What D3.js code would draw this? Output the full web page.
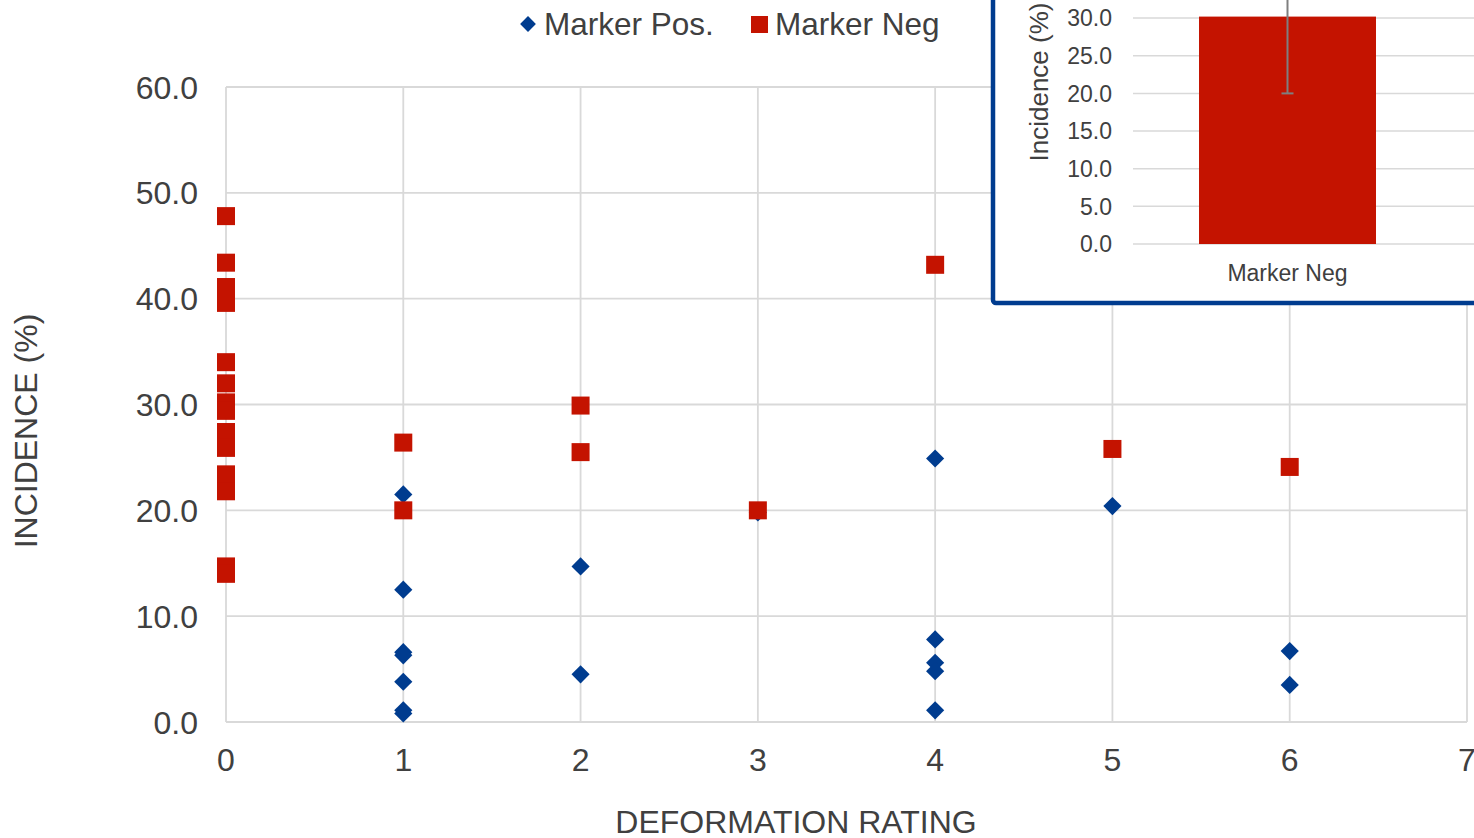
<!DOCTYPE html>
<html>
<head>
<meta charset="utf-8">
<script src="https://cdn.jsdelivr.net/npm/d3@7"></script>
<style>
  body { margin: 0; background: #fff; overflow: hidden; }
  text { font-family: "Liberation Sans", Arial, sans-serif; fill: #404040; }
</style>
</head>
<body>
<div id="chart"></div>
<script>
// size of the page
const width = 1474;
const height = 838;

// main scatter: marker positive (diamonds)
const posRating = [1, 1, 1, 1, 1, 1, 1, 2, 2, 3, 4, 4, 4, 4, 4, 5, 6, 6];
const posIncidence = [21.5, 12.5, 6.6, 6.3, 3.8, 1.1, 0.8, 14.7, 4.5, 19.8, 24.9, 7.8, 5.6, 4.8, 1.1, 20.4, 6.7, 3.5];

// main scatter: marker negative (squares)
const negRating = [0, 0, 0, 0, 0, 0, 0, 0, 0, 0, 0, 0, 0, 0, 1, 1, 2, 2, 3, 4, 5, 6];
const negIncidence = [47.8, 43.4, 41.1, 39.6, 34.0, 32.0, 30.2, 29.4, 27.4, 25.9, 23.4, 21.8, 14.7, 14.0,
                      26.4, 20.0, 29.9, 25.5, 20.0, 43.2, 25.8, 24.1];

const xTicks = [0, 1, 2, 3, 4, 5, 6, 7];
const yTicks = [0, 10, 20, 30, 40, 50, 60];

// inset bar chart
const insetCategories = ["Marker Neg"];
const insetMeans = [30.2];
const insetErrors = [10.2];
const insetTicks = [0, 5, 10, 15, 20, 25, 30, 35, 40, 45];

const blue = "#003c8f";
const red = "#c41300";
const grid = "#d9d9d9";

const svg = d3.select("#chart")
    .append("svg")
    .attr("width", width)
    .attr("height", height);

const x = d3.scaleLinear().domain([0, 7]).range([226, 1467]);
const y = d3.scaleLinear().domain([0, 60]).range([722, 87]);

// gridlines
svg.append("g")
    .selectAll("line")
    .data(yTicks)
    .join("line")
    .attr("x1", x(0)).attr("x2", x(7))
    .attr("y1", d => y(d)).attr("y2", d => y(d))
    .attr("stroke", grid).attr("stroke-width", 1.8);

svg.append("g")
    .selectAll("line")
    .data(xTicks)
    .join("line")
    .attr("x1", d => x(d)).attr("x2", d => x(d))
    .attr("y1", y(0)).attr("y2", y(60))
    .attr("stroke", grid).attr("stroke-width", 1.8);

// tick labels
svg.append("g")
    .selectAll("text")
    .data(yTicks)
    .join("text")
    .attr("x", 198)
    .attr("y", d => y(d))
    .attr("dy", "0.36em")
    .attr("text-anchor", "end")
    .style("font-size", "32px")
    .text(d => d.toFixed(1));

svg.append("g")
    .selectAll("text")
    .data(xTicks)
    .join("text")
    .attr("x", d => x(d))
    .attr("y", y(0) + 49)
    .attr("text-anchor", "middle")
    .style("font-size", "32px")
    .text(d => d);

// axis titles
svg.append("text")
    .attr("transform", "translate(37,431) rotate(-90)")
    .attr("text-anchor", "middle")
    .style("font-size", "32px")
    .text("INCIDENCE (%)");

svg.append("text")
    .attr("x", 796)
    .attr("y", 833)
    .attr("text-anchor", "middle")
    .style("font-size", "32px")
    .text("DEFORMATION RATING");

// markers
const diamond = d3.symbol().type(d3.symbolSquare).size(165);

svg.append("g")
    .selectAll("path")
    .data(posRating.map((r, i) => [r, posIncidence[i]]))
    .join("path")
    .attr("d", diamond)
    .attr("transform", d => `translate(${x(d[0])},${y(d[1])}) rotate(45)`)
    .attr("fill", blue);

svg.append("g")
    .selectAll("rect")
    .data(negRating.map((r, i) => [r, negIncidence[i]]))
    .join("rect")
    .attr("x", d => x(d[0]) - 9)
    .attr("y", d => y(d[1]) - 9)
    .attr("width", 18)
    .attr("height", 18)
    .attr("fill", red);

// legend
const legend = svg.append("g");
legend.append("path")
    .attr("d", d3.symbol().type(d3.symbolSquare).size(125))
    .attr("transform", "translate(528,24) rotate(45)")
    .attr("fill", blue);
legend.append("text")
    .attr("x", 544).attr("y", 35)
    .style("font-size", "31.5px")
    .text("Marker Pos.");
legend.append("rect")
    .attr("x", 751).attr("y", 16)
    .attr("width", 17).attr("height", 17)
    .attr("fill", red);
legend.append("text")
    .attr("x", 775).attr("y", 35)
    .style("font-size", "31.5px")
    .text("Marker Neg");

// inset chart
const inset = svg.append("g");
inset.append("rect")
    .attr("x", 993).attr("y", -60)
    .attr("width", 600).attr("height", 363)
    .attr("rx", 3)
    .attr("fill", "#fff")
    .attr("stroke", blue)
    .attr("stroke-width", 4.5);

const iy = d3.scaleLinear().domain([0, 45]).range([244, 244 - 45 * 7.53]);
const ix = d3.scaleBand().domain(insetCategories).range([1133, 1442])
    .paddingInner(0).paddingOuter(0.373);

inset.append("g")
    .selectAll("line")
    .data(insetTicks)
    .join("line")
    .attr("x1", 1133).attr("x2", 1600)
    .attr("y1", d => iy(d)).attr("y2", d => iy(d))
    .attr("stroke", grid).attr("stroke-width", 1.5);

inset.append("g")
    .selectAll("text")
    .data(insetTicks)
    .join("text")
    .attr("x", 1112)
    .attr("y", d => iy(d))
    .attr("dy", "0.36em")
    .attr("text-anchor", "end")
    .style("font-size", "23px")
    .text(d => d.toFixed(1));

inset.append("g")
    .selectAll("rect")
    .data(insetMeans)
    .join("rect")
    .attr("x", (d, i) => ix(insetCategories[i]))
    .attr("y", d => iy(d))
    .attr("width", ix.bandwidth())
    .attr("height", d => iy(0) - iy(d))
    .attr("fill", red);

// error bars
insetMeans.forEach((m, i) => {
    const cx = ix(insetCategories[i]) + ix.bandwidth() / 2;
    inset.append("line")
        .attr("x1", cx).attr("x2", cx)
        .attr("y1", iy(m - insetErrors[i])).attr("y2", iy(m + insetErrors[i]))
        .attr("stroke", "#7f7f7f").attr("stroke-width", 2);
    [m - insetErrors[i], m + insetErrors[i]].forEach(v => {
        inset.append("line")
            .attr("x1", cx - 6).attr("x2", cx + 6)
            .attr("y1", iy(v)).attr("y2", iy(v))
            .attr("stroke", "#7f7f7f").attr("stroke-width", 2);
    });
});

inset.append("g")
    .selectAll("text")
    .data(insetCategories)
    .join("text")
    .attr("x", d => ix(d) + ix.bandwidth() / 2)
    .attr("y", 281)
    .attr("text-anchor", "middle")
    .style("font-size", "23px")
    .text(d => d);

inset.append("text")
    .attr("transform", "translate(1048,82) rotate(-90)")
    .attr("text-anchor", "middle")
    .style("font-size", "26px")
    .text("Incidence (%)");
</script>
</body>
</html>
